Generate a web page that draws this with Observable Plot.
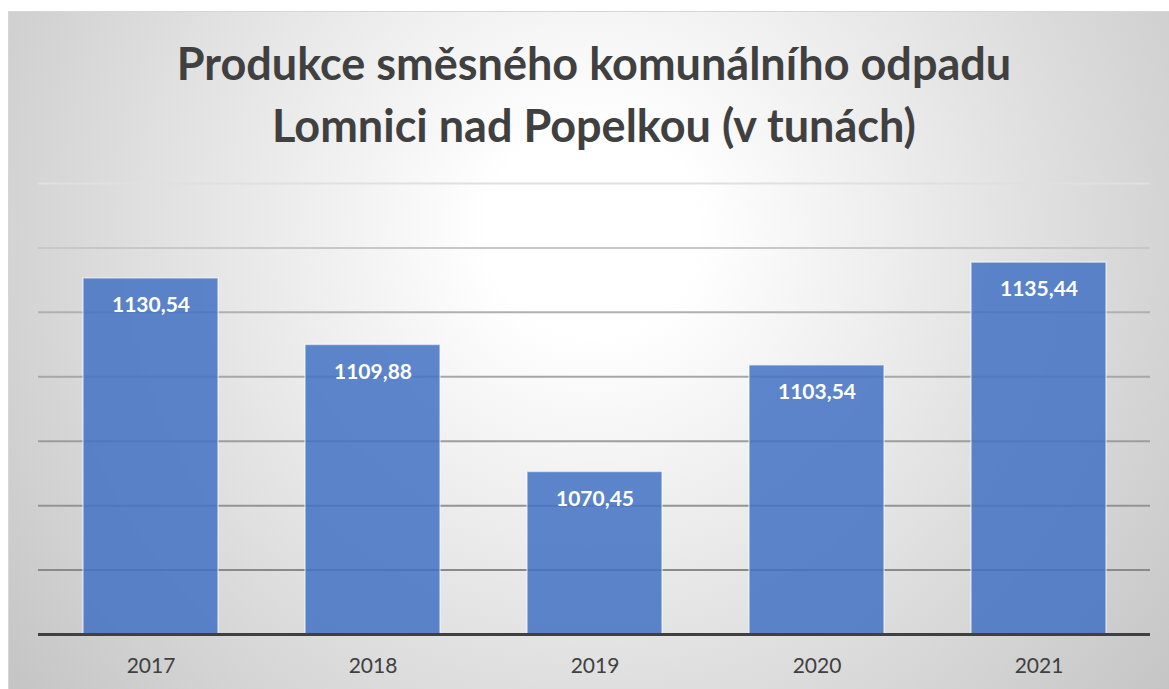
<!DOCTYPE html>
<html>
<head>
<meta charset="utf-8">
<script src="https://cdn.jsdelivr.net/npm/d3@7"></script>
<script src="https://cdn.jsdelivr.net/npm/@observablehq/plot@0.6"></script>
<style>
  html, body { margin: 0; padding: 0; background: #ffffff; width: 1169px; height: 689px; overflow: hidden; }
  #panel {
    position: absolute; left: 8px; top: 11px; width: 1170px; height: 690px;
    border: 1px solid #d6d6d6; box-sizing: border-box; overflow: hidden;
    background: radial-gradient(circle farthest-corner at 50% 32%, #ffffff 0%, #ffffff 14%, #c4c4c4 100%);
  }
  #title {
    height: 150px; box-sizing: border-box; padding-top: 20px; padding-left: 10px;
    width: 1160px; text-align: center;
    font-family: Lato, "Open Sans", sans-serif; font-weight: 700; font-size: 45px;
    line-height: 62px; color: #404040;
  }
  #chart svg { display: block; background: transparent; }
</style>
</head>
<body>
<div id="panel">
  <div id="title">Produkce směsného komunálního odpadu<br>Lomnici nad Popelkou (v tunách)</div>
  <div id="chart"></div>
</div>
<script>
const years = ["2017", "2018", "2019", "2020", "2021"];
const values = [1130.54, 1109.88, 1070.45, 1103.54, 1135.44];
const yTicks = [1020, 1040, 1060, 1080, 1100, 1120, 1140, 1160];

const data = years.map((year, i) => ({year, value: values[i]}));
const yMin = yTicks[0];
const yMax = yTicks[yTicks.length - 1];
const gridColor = d3.scaleLinear().domain([1040, 1120, 1160]).range(["#8a8a8a", "#b0b0b0", "#e0e0e0"]);
const fmt = v => v.toFixed(2).replace(".", ",");

const chart = Plot.plot({
  width: 1160,
  height: 527,
  marginTop: 21,
  marginBottom: 55,
  marginLeft: 29,
  marginRight: 19,
  style: {background: "transparent", fontFamily: "Lato, 'Open Sans', sans-serif"},
  x: {type: "band", domain: years, paddingInner: 0.393, paddingOuter: 0.1965, label: null},
  y: {domain: [yMin, yMax], axis: null},
  marks: [
    Plot.ruleY(yTicks.slice(1), {stroke: d => gridColor(d), strokeWidth: 2}),
    Plot.rectY(data, {x: "year", y1: () => yMin, y2: "value", fill: "#4472C4", fillOpacity: 0.86, stroke: "#ffffff", strokeOpacity: 0.55, strokeWidth: 1.5}),
    Plot.ruleY([yMin], {stroke: "#404040", strokeWidth: 3}),
    Plot.text(data, {x: "year", y: "value", text: d => fmt(d.value), dy: 27, fill: "#ffffff", fontWeight: 700, fontSize: 21}),
    Plot.axisX({tickSize: 0, tickPadding: 24, fontSize: 21, color: "#404040", label: null})
  ]
});
document.getElementById("chart").appendChild(chart);
</script>
</body>
</html>
